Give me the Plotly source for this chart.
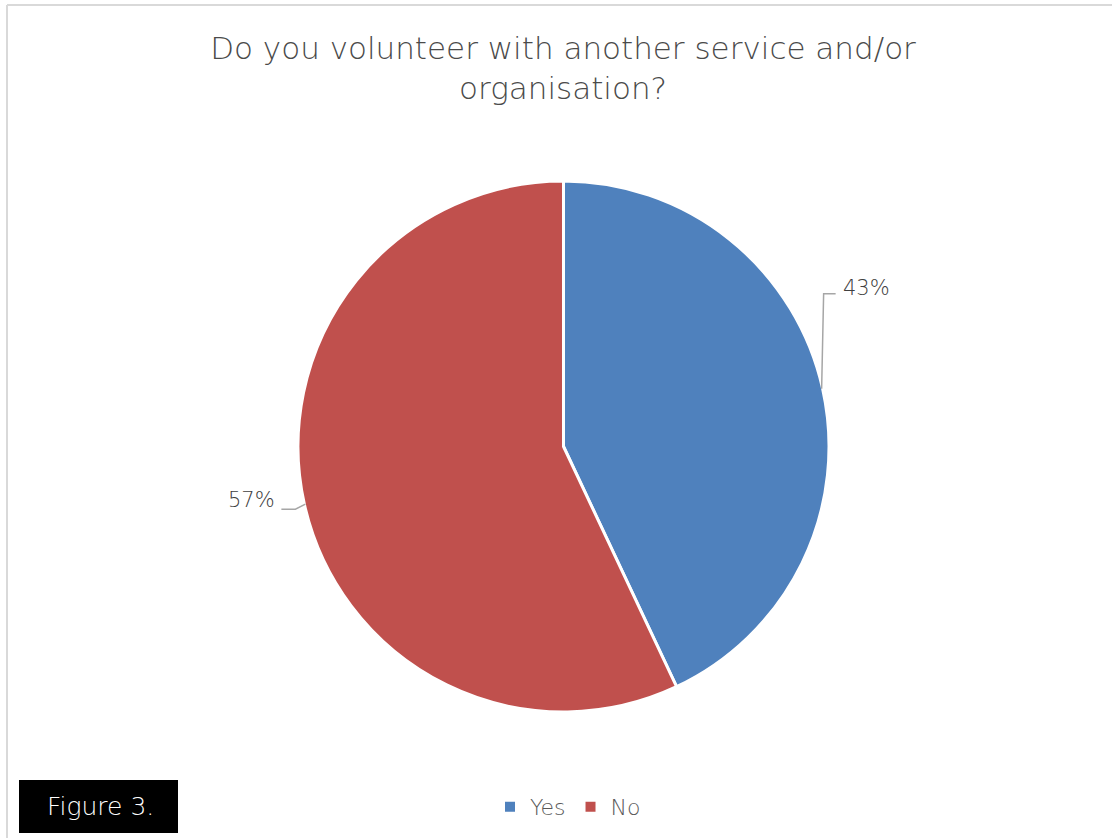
import math
import plotly.graph_objects as go

# ---- data ----
labels = ["Yes", "No"]
values = [43, 57]
colors = ["#4F81BD", "#C0504D"]
title_text = "Do you volunteer with another service and/or<br>organisation?"
figure_label = "Figure 3."

W, H = 1112, 838
FONT = "'DejaVu Sans', sans-serif"
LIGHT = 300

# pie geometry in pixels (style)
cx, cy, r = 563.5, 446.5, 265.5

def px(x):
    return x / W

def py(y):
    return 1 - y / H

fig = go.Figure()
fig.add_trace(go.Pie(
    labels=labels, values=values, sort=False, direction="clockwise", rotation=0,
    marker=dict(colors=colors, line=dict(color="white", width=3)),
    textinfo="none", hoverinfo="label+percent",
    domain=dict(x=[px(cx - r), px(cx + r)], y=[py(cy + r), py(cy - r)]),
))

# label placement derived from slice midpoints
total = sum(values)
cum = 0
label_style = [
    dict(rise=-95, run=12, gap=5, tdy=-6),
    dict(rise=5, run=-14, gap=-4, tdy=-9),
]
shapes = []
annotations = []
for v, st in zip(values, label_style):
    mid = (cum + v / 2) / total * 2 * math.pi
    cum += v
    sx = cx + (r - 1) * math.sin(mid)
    sy = cy - (r - 1) * math.cos(mid)
    right = math.sin(mid) > 0
    ex = sx + (2 if right else -10)
    ey = sy + st["rise"]
    tx = ex + st["run"]
    path = f"M {px(sx)} {py(sy)} L {px(ex)} {py(ey)} L {px(tx)} {py(ey)}"
    shapes.append(dict(type="path", xref="paper", yref="paper", path=path,
                       line=dict(color="#A6A6A6", width=1.5)))
    pct = round(v / total * 100)
    annotations.append(dict(
        x=px(tx + st["gap"]), y=py(ey + st["tdy"]), xref="paper", yref="paper",
        text=f"{pct}%", showarrow=False,
        xanchor="left" if right else "right", yanchor="middle",
        font=dict(family=FONT, size=21, color="#404040", weight=LIGHT),
    ))

# chart border (top and left visible)
shapes.append(dict(type="line", xref="paper", yref="paper",
                   x0=px(7), x1=1.02, y0=py(5), y1=py(5),
                   line=dict(color="#D9D9D9", width=2)))
shapes.append(dict(type="line", xref="paper", yref="paper",
                   x0=px(7), x1=px(7), y0=py(5), y1=-0.02,
                   line=dict(color="#D9D9D9", width=2)))
# figure label box
shapes.append(dict(type="rect", xref="paper", yref="paper",
                   x0=px(19), x1=px(178), y0=py(833), y1=py(780),
                   fillcolor="black", line=dict(width=0)))
annotations.append(dict(x=px(100), y=py(806), xref="paper", yref="paper",
                        text=figure_label, showarrow=False,
                        xanchor="center", yanchor="middle",
                        font=dict(family=FONT, size=25, color="white", weight=LIGHT)))

fig.update_layout(
    width=W, height=H,
    margin=dict(l=0, r=0, t=0, b=0),
    paper_bgcolor="white", plot_bgcolor="white",
    title=dict(text=title_text, x=px(563), xanchor="center", y=py(67), yanchor="middle",
               font=dict(family=FONT, size=31, color="#4A4A4A", weight=LIGHT)),
    showlegend=True,
    legend=dict(orientation="h", x=px(568), xanchor="center", y=py(807), yanchor="middle",
                font=dict(family=FONT, size=22, color="#595959", weight=LIGHT),
                itemsizing="constant", itemwidth=30, tracegroupgap=0),
    shapes=shapes, annotations=annotations,
)
fig.update_layout(title_y=py(59))

fig.write_html("out.html", config={"displayModeBar": False},
               post_script="document.body.style.margin='0';document.body.style.overflow='hidden';")
